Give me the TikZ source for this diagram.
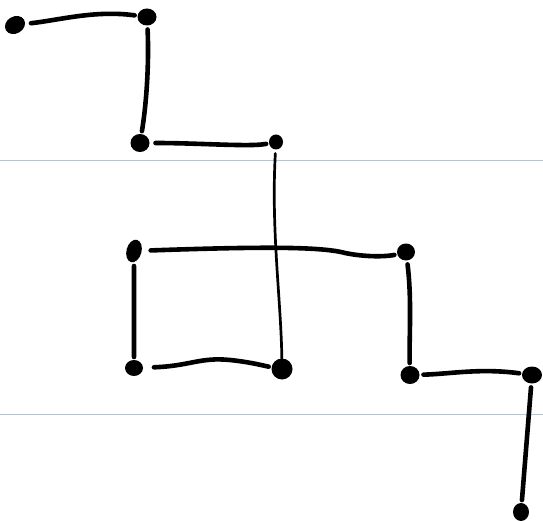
\documentclass[tikz,border=0pt]{standalone}
\usetikzlibrary{shapes.geometric}
\begin{document}
\begin{tikzpicture}[x=1pt,y=-1pt,
  dot/.style={ellipse,fill=black,inner sep=0pt,outer sep=0pt},
  stroke/.style={line width=4.6pt,line cap=round,shorten <=4pt,shorten >=3pt},
  thinstroke/.style={line width=2.7pt,line cap=round,shorten <=4pt},
  guide/.style={draw={rgb,255:red,176;green,196;blue,222},line width=0.9pt}]
\useasboundingbox (0,0) rectangle (543,521);
\fill[white] (0,0) rectangle (543,521);
% guide lines
\draw[guide] (0,160) -- (543,160);
\draw[guide] (0,414) -- (543,414);
% dots
\node[dot,minimum width=21pt,minimum height=17pt,rotate=30] (A) at (15,25) {};
\node[dot,minimum width=19pt,minimum height=17pt] (B) at (147,17) {};
\node[dot,minimum width=19pt,minimum height=18pt] (C) at (140,143) {};
\node[dot,minimum width=14pt,minimum height=15pt] (D) at (276,142) {};
\node[dot,minimum width=15pt,minimum height=23pt,rotate=-15] (E) at (134,251) {};
\node[dot,minimum width=18pt,minimum height=17pt] (F) at (406,252) {};
\node[dot,minimum width=19pt,minimum height=18pt] (G) at (410,375) {};
\node[dot,minimum width=18pt,minimum height=16pt] (H) at (134,368) {};
\node[dot,minimum width=21pt,minimum height=21pt] (I) at (282,369) {};
\node[dot,minimum width=20pt,minimum height=17pt] (J) at (532,375) {};
\node[dot,minimum width=16pt,minimum height=18pt] (K) at (521,512) {};
% connectors
\draw[stroke,shorten <=6pt] (A) .. controls (60,20) and (95,10) .. (B);
\draw[stroke] (B) .. controls (149,60) and (147,100) .. (C);
\draw[stroke,shorten <=6pt] (C) .. controls (200,143) and (250,147) .. (D);
\draw[thinstroke] (D) .. controls (271,230) and (281,300) .. (I);
\draw[stroke,shorten <=9pt] (E) .. controls (250,247) and (320,246) .. (345,253) .. controls (370,258) and (390,256) .. (F);
\draw[stroke] (E) -- (H);
\draw[stroke,shorten <=11pt] (H) .. controls (190,366) and (200,357) .. (230,360) .. controls (250,362) and (265,366) .. (I);
\draw[stroke] (F) .. controls (412,300) and (409,340) .. (G);
\draw[stroke,shorten <=4pt] (G) .. controls (450,374) and (480,368) .. (J);
\draw[stroke] (J) -- (K);
\end{tikzpicture}
\end{document}
